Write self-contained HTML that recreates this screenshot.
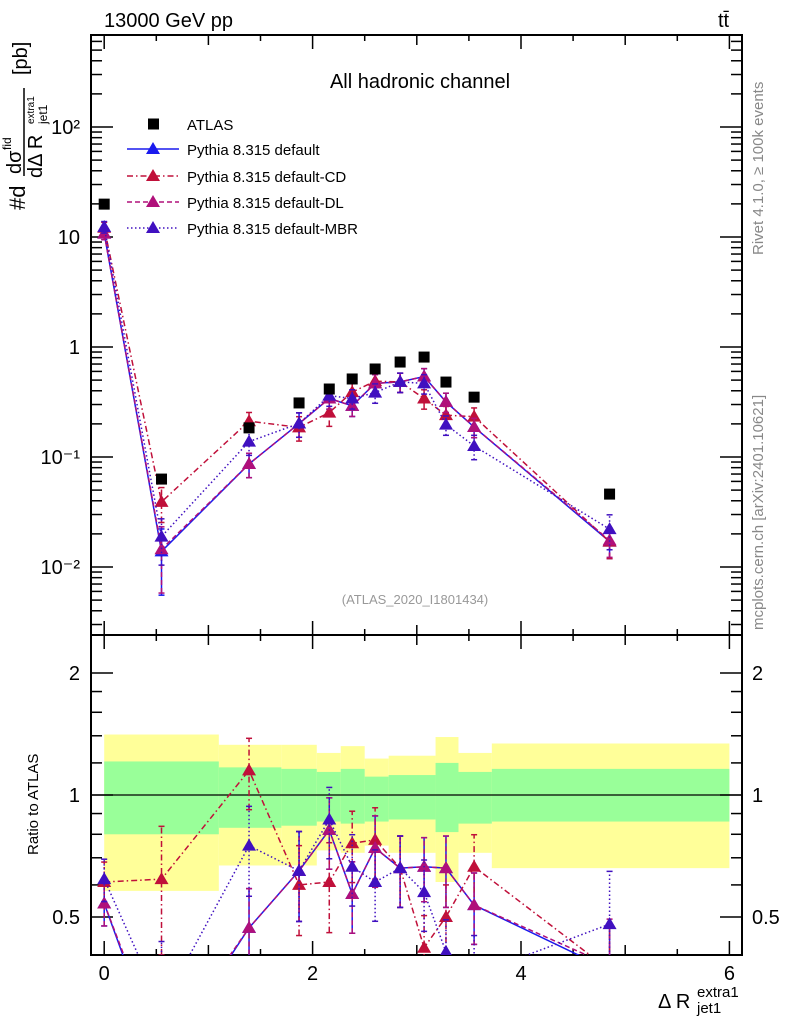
<!DOCTYPE html>
<html><head><meta charset="utf-8"><style>
html,body{margin:0;background:#fff;overflow:hidden;width:786px;height:1024px;}
svg{display:block;font-family:"Liberation Sans",sans-serif;overflow:hidden;}
</style></head><body>
<svg id="c" width="786" height="1024" xmlns="http://www.w3.org/2000/svg">
<rect x="0" y="0" width="786" height="1024" fill="#fff"/>
<text x="104" y="27" font-size="20">13000 GeV pp</text>
<text x="718" y="27" font-size="20">tt̄</text>
<text x="420" y="88" font-size="20" text-anchor="middle">All hadronic channel</text>
<text x="415" y="604" font-size="13" fill="#999" text-anchor="middle">(ATLAS_2020_I1801434)</text>
<text transform="translate(763,255) rotate(-90)" font-size="15" fill="#888">Rivet 4.1.0, ≥ 100k events</text>
<text transform="translate(763,630) rotate(-90)" font-size="15" fill="#888">mcplots.cern.ch [arXiv:2401.10621]</text>
<g transform="translate(23,210) rotate(-90)">
<text x="0" y="2" font-size="22">#d</text>
<text x="36" y="-2" font-size="20">dσ</text><text x="60" y="-12" font-size="12">fid</text>
<line x1="34" y1="1" x2="122" y2="1" stroke="#000" stroke-width="1.5"/>
<text x="32" y="19" font-size="20">dΔ R</text><text x="86" y="24" font-size="12">jet1</text><text x="86" y="11" font-size="10">extra1</text>
<text x="135" y="4" font-size="20">[pb]</text>
</g>
<text transform="translate(38,855) rotate(-90)" font-size="15">Ratio to ATLAS</text>
<g>
<text x="658" y="1008" font-size="20">Δ R</text><text x="697" y="1013" font-size="15">jet1</text><text x="697" y="997" font-size="15">extra1</text>
</g>
<g id="main"></g><g id="ratio"></g><g id="legend"></g>
</svg>
<script>
const xCenters=[0,0.55,1.39,1.87,2.16,2.38,2.60,2.84,3.07,3.28,3.55,4.85];
const atlas=[19.9,0.063,0.184,0.31,0.415,0.512,0.631,0.73,0.81,0.48,0.35,0.046];
const ratioDefault=[0.54,0.22,0.47,0.65,0.82,0.57,0.74,0.66,0.665,0.66,0.535,0.37];
const ratioCD=[0.61,0.62,1.15,0.60,0.61,0.76,0.775,0.66,0.42,0.50,0.665,0.37];
const ratioDL=[0.54,0.23,0.47,0.65,0.82,0.57,0.74,0.66,0.665,0.66,0.535,0.38];
const ratioMBR=[0.62,0.30,0.75,0.65,0.87,0.665,0.61,0.66,0.576,0.41,0.36,0.48];
const relErrDefault=[0.12,0.6,0.25,0.25,0.2,0.2,0.2,0.2,0.18,0.2,0.2,0.3];
const relErrCD=[0.12,0.35,0.2,0.25,0.25,0.2,0.2,0.2,0.2,0.2,0.2,0.3];
const relErrMBR=[0.12,0.45,0.25,0.25,0.2,0.2,0.2,0.2,0.2,0.2,0.25,0.35];
const bandEdges=[0,1.1,1.7,2.04,2.27,2.5,2.73,3.18,3.4,3.72,6];
const yellowHi=[1.41,1.33,1.33,1.27,1.32,1.23,1.25,1.39,1.27,1.34];
const yellowLo=[0.58,0.67,0.67,0.73,0.72,0.75,0.72,0.61,0.72,0.66];
const greenHi=[1.21,1.17,1.16,1.14,1.16,1.11,1.12,1.20,1.14,1.16];
const greenLo=[0.80,0.83,0.84,0.86,0.85,0.86,0.87,0.81,0.85,0.86];
const xTicks=[0,2,4,6];
const mainTickLabels=["10⁻²","10⁻¹","1","10","10²"];

const NS="http://www.w3.org/2000/svg";
const L=91,R=742,MT=35,MB=635,RB=955;
const X=v=>104.2+v*104.2;
const YM=v=>347-110*Math.log10(v);
const YR=v=>795-122*Math.log2(v);
function mk(p,tag,at){const e=document.createElementNS(NS,tag);for(const k in at)e.setAttribute(k,at[k]);p.appendChild(e);return e;}
const main=document.getElementById('main'),ratio=document.getElementById('ratio'),leg=document.getElementById('legend');

function band(hi,lo,col,nm){
  for(let i=0;i<hi.length;i++){
    const r=mk(ratio,'rect',{x:X(bandEdges[i]),y:YR(hi[i]),width:X(bandEdges[i+1])-X(bandEdges[i]),height:YR(lo[i])-YR(hi[i]),fill:col});
    
    
  }
}
band(yellowHi,yellowLo,'#ffff99','yellow-band');
band(greenHi,greenLo,'#99ff99','green-band');
const one=mk(ratio,'line',{x1:L,x2:R,y1:YR(1),y2:YR(1),stroke:'#000','stroke-width':1.2});



for(const [t,b,nm] of [[MT,MB,'main-frame'],[MB,RB,'ratio-frame']]){
  const f=mk(t===MT?main:ratio,'rect',{x:L,y:t,width:R-L,height:b-t,fill:'none',stroke:'#000','stroke-width':2});
  
  
}
for(let v=0;v<=6.01;v+=0.5){
  const maj=Math.abs(v-Math.round(v/2)*2)<1e-6, med=Math.abs(v-Math.round(v))<1e-6;
  const len=maj?14:(med?10:6);
  for(const [t,b] of [[MT,MB],[MB,RB]]){
    mk(main,'line',{x1:X(v),x2:X(v),y1:b,y2:b-len,stroke:'#000','stroke-width':1.5});
    mk(main,'line',{x1:X(v),x2:X(v),y1:t,y2:t+len,stroke:'#000','stroke-width':1.5});
  }
}
xTicks.forEach(v=>{const t=mk(ratio,'text',{x:X(v),y:980,'font-size':20,'text-anchor':'middle'});t.textContent=v;

});
for(let d=-3;d<=2;d++){for(let m=1;m<10;m++){const v=m*Math.pow(10,d);const y=YM(v);if(y<MT||y>MB)continue;
 const len=m===1?22:11;
 mk(main,'line',{x1:L,x2:L+len,y1:y,y2:y,stroke:'#000','stroke-width':1.5});
 mk(main,'line',{x1:R,x2:R-len,y1:y,y2:y,stroke:'#000','stroke-width':1.5});}}
[-2,-1,0,1,2].forEach((d,i)=>{const t=mk(main,'text',{x:80,y:YM(Math.pow(10,d))+7,'font-size':20,'text-anchor':'end'});t.textContent=mainTickLabels[i];

});
[0.5,0.6,0.7,0.8,0.9,1,1.2,1.4,1.6,1.8,2].forEach(v=>{const y=YR(v);const maj=[0.5,1,2].includes(v);const len=maj?22:11;
 mk(ratio,'line',{x1:L,x2:L+len,y1:y,y2:y,stroke:'#000','stroke-width':1.5});
 mk(ratio,'line',{x1:R,x2:R-len,y1:y,y2:y,stroke:'#000','stroke-width':1.5});
 if(maj){for(const [x,a] of [[80,'end'],[752,'start']]){const t=mk(ratio,'text',{x:x,y:y+7,'font-size':20,'text-anchor':a});t.textContent=v;
 
 }}});

const defs=mk(document.getElementById('c'),'defs',{});
const cm=mk(defs,'clipPath',{id:'cm'});mk(cm,'rect',{x:L,y:MT,width:R-L,height:MB-MT});
const cr=mk(defs,'clipPath',{id:'cr'});mk(cr,'rect',{x:L,y:MB,width:R-L,height:RB-MB});
const gm=mk(main,'g',{'clip-path':'url(#cm)'}),gr=mk(ratio,'g',{'clip-path':'url(#cr)'});

const series=[
 {n:'default',r:ratioDefault,e:relErrDefault,c:'#1a1aee',d:'',w:1.5},
 {n:'default-CD',r:ratioCD,e:relErrCD,c:'#c0103a',d:'6,3,1.5,3',w:1.5},
 {n:'default-DL',r:ratioDL,e:relErrDefault,c:'#b0107a',d:'5,3',w:1.5},
 {n:'default-MBR',r:ratioMBR,e:relErrMBR,c:'#4010c0',d:'1.5,2.5',w:1.5}
];
function tri(g,x,y,c){return mk(g,'path',{d:`M${x},${y-7}L${x+7},${y+5}L${x-7},${y+5}Z`,fill:c});}
series.forEach(s=>{
 const mv=s.r.map((r,i)=>r*atlas[i]);
 for(const [g,Y,vals,nm] of [[gm,YM,mv,'main'],[gr,YR,s.r,'ratio']]){
   const pl=mk(g,'polyline',{points:vals.map((v,i)=>X(xCenters[i])+','+Y(v)).join(' '),fill:'none',stroke:s.c,'stroke-width':s.w,'stroke-dasharray':s.d});
   
   
   vals.forEach((v,i)=>{const x=X(xCenters[i]);const lo=Y(v*(1-s.e[i])),hi=Y(v*(1+s.e[i]));
     mk(g,'line',{x1:x,x2:x,y1:lo,y2:hi,stroke:s.c,'stroke-width':1.5,'stroke-dasharray':s.d});
     mk(g,'line',{x1:x-3,x2:x+3,y1:lo,y2:lo,stroke:s.c,'stroke-width':1.5});
     mk(g,'line',{x1:x-3,x2:x+3,y1:hi,y2:hi,stroke:s.c,'stroke-width':1.5});
     const t=tri(g,x,Y(v),s.c);
     
     });
 }
});
atlas.forEach((v,i)=>{const r=mk(gm,'rect',{x:X(xCenters[i])-5.5,y:YM(v)-5.5,width:11,height:11,fill:'#000'});
 
 });

const ly=[124,149,176,202,228];
mk(leg,'rect',{x:148,y:ly[0]-5.5,width:11,height:11,fill:'#000'});
const lt0=mk(leg,'text',{x:187,y:ly[0]+6,'font-size':15});lt0.textContent='ATLAS';


series.forEach((s,i)=>{const y=ly[i+1];
 mk(leg,'line',{x1:127,x2:179,y1:y,y2:y,stroke:s.c,'stroke-width':1.5,'stroke-dasharray':s.d});
 tri(leg,153,y,s.c);
 const t=mk(leg,'text',{x:187,y:y+6,'font-size':15});t.textContent='Pythia 8.315 '+s.n;
 
 });
</script>
</body></html>
